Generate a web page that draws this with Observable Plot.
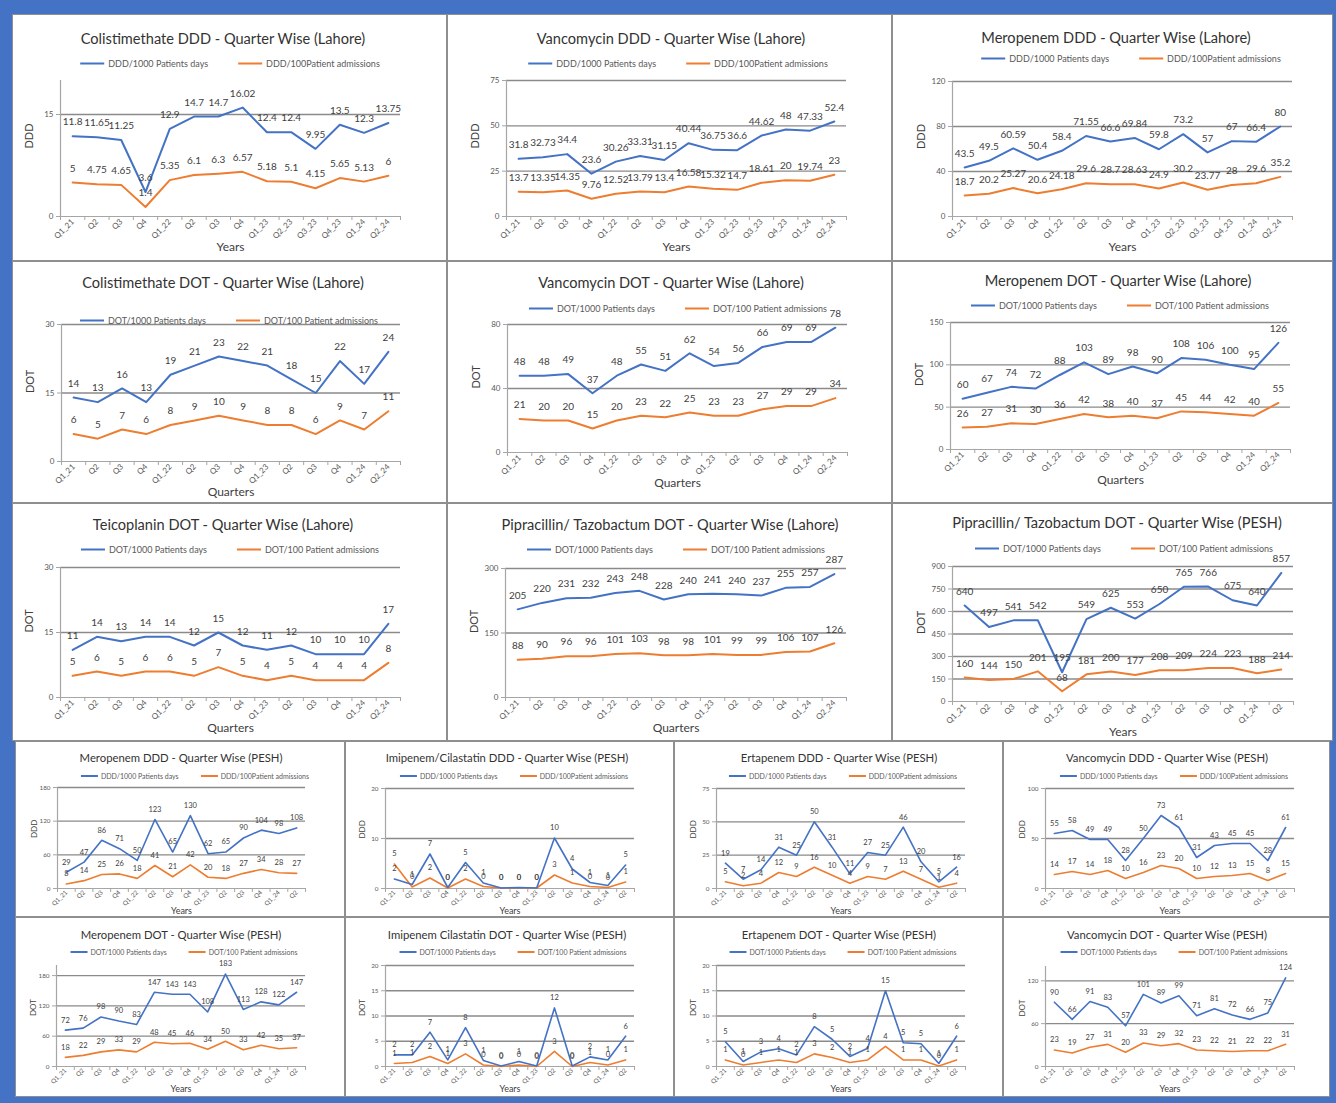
<!DOCTYPE html>
<html>
<head>
<meta charset="utf-8">
<script src="https://cdn.jsdelivr.net/npm/d3@7"></script>
<script src="https://cdn.jsdelivr.net/npm/@observablehq/plot@0.6"></script>
<style>
html, body { margin: 0; padding: 0; background: #4472c4; }
#root { position: relative; width: 1336px; height: 1103px; background: #4472c4; overflow: hidden; font-family: Lato, "Open Sans", sans-serif; }
.panel { position: absolute; background: #fff; box-shadow: inset 0 0 0 1px #8f8f8f; }
.panel svg { position: absolute; left: 0; top: 0; }
.title { position: absolute; transform: translate(-50%, -50%); white-space: nowrap; color: #333; z-index: 2; }
.legend { position: absolute; transform: translate(-50%, -50%); white-space: nowrap; display: flex; align-items: center; color: #595959; z-index: 2; }
.legend .sw { display: inline-block; }
</style>
</head>
<body>
<div id="root"></div>
<script>
// ---------- category labels ----------
const quartersYearsLahore = ["Q1_21","Q2","Q3","Q4","Q1_22","Q2","Q3","Q4","Q1_23","Q2_23","Q3_23","Q4_23","Q1_24","Q2_24"];
const quartersLahore = ["Q1_21","Q2","Q3","Q4","Q1_22","Q2","Q3","Q4","Q1_23","Q2","Q3","Q4","Q1_24","Q2_24"];
const quartersPesh = ["Q1_21","Q2","Q3","Q4","Q1_22","Q2","Q3","Q4","Q1_23","Q2","Q3","Q4","Q1_24","Q2"];

// ---------- series values (Lahore) ----------
const colistDDD_days = [11.8, 11.65, 11.25, 3.6, 12.9, 14.7, 14.7, 16.02, 12.4, 12.4, 9.95, 13.5, 12.3, 13.75];
const colistDDD_adm  = [5, 4.75, 4.65, 1.4, 5.35, 6.1, 6.3, 6.57, 5.18, 5.1, 4.15, 5.65, 5.13, 6];
const vancoDDD_days  = [31.8, 32.73, 34.4, 23.6, 30.26, 33.31, 31.15, 40.44, 36.75, 36.6, 44.62, 48, 47.33, 52.4];
const vancoDDD_adm   = [13.7, 13.35, 14.35, 9.76, 12.52, 13.79, 13.4, 16.58, 15.32, 14.7, 18.61, 20, 19.74, 23];
const meroDDD_days   = [43.5, 49.5, 60.59, 50.4, 58.4, 71.55, 66.6, 69.84, 59.8, 73.2, 57, 67, 66.4, 80];
const meroDDD_adm    = [18.7, 20.2, 25.27, 20.6, 24.18, 29.6, 28.7, 28.63, 24.9, 30.2, 23.77, 28, 29.6, 35.2];
const colistDOT_days = [14, 13, 16, 13, 19, 21, 23, 22, 21, 18, 15, 22, 17, 24];
const colistDOT_adm  = [6, 5, 7, 6, 8, 9, 10, 9, 8, 8, 6, 9, 7, 11];
const vancoDOT_days  = [48, 48, 49, 37, 48, 55, 51, 62, 54, 56, 66, 69, 69, 78];
const vancoDOT_adm   = [21, 20, 20, 15, 20, 23, 22, 25, 23, 23, 27, 29, 29, 34];
const meroDOT_days   = [60, 67, 74, 72, 88, 103, 89, 98, 90, 108, 106, 100, 95, 126];
const meroDOT_adm    = [26, 27, 31, 30, 36, 42, 38, 40, 37, 45, 44, 42, 40, 55];
const teicoDOT_days  = [11, 14, 13, 14, 14, 12, 15, 12, 11, 12, 10, 10, 10, 17];
const teicoDOT_adm   = [5, 6, 5, 6, 6, 5, 7, 5, 4, 5, 4, 4, 4, 8];
const pipLhrDOT_days = [205, 220, 231, 232, 243, 248, 228, 240, 241, 240, 237, 255, 257, 287];
const pipLhrDOT_adm  = [88, 90, 96, 96, 101, 103, 98, 98, 101, 99, 99, 106, 107, 126];

// ---------- series values (PESH) ----------
const pipPeshDOT_days   = [640, 497, 541, 542, 195, 549, 625, 553, 650, 765, 766, 675, 640, 857];
const pipPeshDOT_adm    = [160, 144, 150, 201, 68, 181, 200, 177, 208, 209, 224, 223, 188, 214];
const meroPeshDDD_days  = [29, 47, 86, 71, 50, 123, 65, 130, 62, 65, 90, 104, 98, 108];
const meroPeshDDD_adm   = [8, 14, 25, 26, 18, 41, 21, 42, 20, 18, 27, 34, 28, 27];
const imiPeshDDD_days   = [1.9, 0.8, 6.9, 0.2, 5.2, 1.1, 0.1, 0.2, 0.1, 10.1, 3.9, 1.2, 0.6, 4.7];
const imiPeshDDD_adm    = [4.9, 0.3, 2.1, 0.1, 1.9, 0.4, 0.1, 0.1, 0.1, 2.7, 1.1, 0.4, 0.2, 1.3];
const ertaPeshDDD_days  = [19, 7, 14, 31, 25, 50, 31, 11, 27, 25, 46, 20, 5, 16];
const ertaPeshDDD_adm   = [5, 2, 4, 12, 9, 16, 10, 4, 9, 7, 13, 7, 1, 4];
const vancoPeshDDD_days = [55, 58, 49, 49, 28, 50, 73, 61, 31, 43, 45, 45, 28, 61];
const vancoPeshDDD_adm  = [14, 17, 14, 18, 10, 16, 23, 20, 10, 12, 13, 15, 8, 15];
const meroPeshDOT_days  = [72, 76, 98, 90, 83, 147, 143, 143, 108, 183, 113, 128, 122, 147];
const meroPeshDOT_adm   = [18, 22, 29, 33, 29, 48, 45, 46, 34, 50, 33, 42, 35, 37];
const imiPeshDOT_days   = [2.3, 2.3, 6.8, 1.3, 7.7, 1.2, 0.1, 1, 0.1, 11.6, 0.1, 1.9, 1.3, 6];
const imiPeshDOT_adm    = [0.6, 0.8, 2, 0.6, 2.5, 0.3, 0, 0.3, 0, 3, 0, 0.8, 0.3, 1.3];
const ertaPeshDOT_days  = [4.9, 1, 2.9, 3.5, 2.3, 7.9, 5.4, 2, 3.6, 15, 4.7, 4.5, 0.6, 6];
const ertaPeshDOT_adm   = [1.3, 0.3, 0.8, 1.3, 0.8, 2.5, 1.8, 0.8, 1.3, 4, 1.3, 1.3, 0.1, 1.3];
const vancoPeshDOT_days = [90, 66, 91, 83, 57, 101, 89, 99, 71, 81, 72, 66, 75, 124];
const vancoPeshDOT_adm  = [23, 19, 27, 31, 20, 33, 29, 32, 23, 22, 21, 22, 22, 31];

// ---------- legend texts ----------
const legendDDD = ["DDD/1000 Patients days", "DDD/100Patient admissions"];
const legendDOT = ["DOT/1000 Patients days", "DOT/100 Patient admissions"];

// ---------- styles ----------
const BLUE = "#4472c4", ORANGE = "#ed7d31";
const styles = {
  L: {title: 14.6, legend: 9, tick: 8, label: 10, yTitle: 11, xTitle: 12, dy: -14, yTitleDx: -31, xTitleDy: 34, lineW: 2, sw: 24, swGap: 4, itemGap: 30, tickPad: 4},
  S: {title: 11.3, legend: 7, tick: 6.3, label: 7.5, yTitle: 8, xTitle: 9, dy: -10, yTitleDx: -23, xTitleDy: 25, lineW: 1.6, sw: 17, swGap: 3, itemGap: 22, tickPad: 3}
};
const raw = v => String(v);
const rnd = v => String(Math.round(v));

// ---------- chart layout ----------
const charts = [
  {title: "Colistimethate DDD - Quarter Wise (Lahore)", days: colistDDD_days, adm: colistDDD_adm, cats: quartersYearsLahore, legend: legendDDD, yT: "DDD", xT: "Years", yMax: 20, yTicks: [0, 15], fmt: raw, size: "L", panel: [12, 14, 447, 261], frame: [60, 80, 400, 216], tXY: [223, 38], lXY: [230, 63]},
  {title: "Vancomycin DDD - Quarter Wise (Lahore)", days: vancoDDD_days, adm: vancoDDD_adm, cats: quartersYearsLahore, legend: legendDDD, yT: "DDD", xT: "Years", yMax: 75, yTicks: [0, 25, 50, 75], fmt: raw, size: "L", panel: [447, 14, 892, 261], frame: [506, 80, 846, 216], tXY: [671, 38], lXY: [678, 63]},
  {title: "Meropenem DDD - Quarter Wise (Lahore)", days: meroDDD_days, adm: meroDDD_adm, cats: quartersYearsLahore, legend: legendDDD, yT: "DDD", xT: "Years", yMax: 120, yTicks: [0, 40, 80, 120], fmt: raw, size: "L", panel: [892, 14, 1333, 261], frame: [952, 81, 1292, 216], tXY: [1116, 37], lXY: [1131, 58]},
  {title: "Colistimethate DOT - Quarter Wise (Lahore)", days: colistDOT_days, adm: colistDOT_adm, cats: quartersLahore, legend: legendDOT, yT: "DOT", xT: "Quarters", yMax: 30, yTicks: [0, 15, 30], fmt: rnd, size: "L", panel: [12, 261, 447, 503], frame: [61, 324, 400, 461], tXY: [223, 282], lXY: [229, 320]},
  {title: "Vancomycin DOT - Quarter Wise (Lahore)", days: vancoDOT_days, adm: vancoDOT_adm, cats: quartersLahore, legend: legendDOT, yT: "DOT", xT: "Quarters", yMax: 80, yTicks: [0, 40, 80], fmt: rnd, size: "L", panel: [447, 261, 892, 503], frame: [507, 324, 847, 452], tXY: [671, 282], lXY: [678, 308]},
  {title: "Meropenem DOT - Quarter Wise (Lahore)", days: meroDOT_days, adm: meroDOT_adm, cats: quartersLahore, legend: legendDOT, yT: "DOT", xT: "Quarters", yMax: 150, yTicks: [0, 50, 100, 150], fmt: rnd, size: "L", panel: [892, 261, 1333, 503], frame: [950, 322, 1290, 449], tXY: [1118, 280], lXY: [1120, 305]},
  {title: "Teicoplanin DOT - Quarter Wise (Lahore)", days: teicoDOT_days, adm: teicoDOT_adm, cats: quartersLahore, legend: legendDOT, yT: "DOT", xT: "Quarters", yMax: 30, yTicks: [0, 15, 30], fmt: rnd, size: "L", panel: [12, 503, 447, 741], frame: [60, 567, 400, 697], tXY: [223, 524], lXY: [230, 549]},
  {title: "Pipracillin/ Tazobactum DOT - Quarter Wise (Lahore)", days: pipLhrDOT_days, adm: pipLhrDOT_adm, cats: quartersLahore, legend: legendDOT, yT: "DOT", xT: "Quarters", yMax: 300, yTicks: [0, 150, 300], fmt: rnd, size: "L", panel: [447, 503, 892, 741], frame: [505, 568, 846, 697], tXY: [670, 524], lXY: [676, 549]},
  {title: "Pipracillin/ Tazobactum DOT - Quarter Wise (PESH)", days: pipPeshDOT_days, adm: pipPeshDOT_adm, cats: quartersPesh, legend: legendDOT, yT: "DOT", xT: "Years", yMax: 900, yTicks: [0, 150, 300, 450, 600, 750, 900], fmt: rnd, size: "L", panel: [892, 503, 1333, 741], frame: [952, 566, 1293, 701], tXY: [1117, 522], lXY: [1124, 548]},
  {title: "Meropenem DDD - Quarter Wise (PESH)", days: meroPeshDDD_days, adm: meroPeshDDD_adm, cats: quartersPesh, legend: legendDDD, yT: "DDD", xT: "Years", yMax: 180, yTicks: [0, 60, 120, 180], fmt: rnd, size: "S", panel: [15, 741, 345, 917], frame: [57, 787, 305, 888], tXY: [181, 757], lXY: [195, 776]},
  {title: "Imipenem/Cilastatin DDD - Quarter Wise (PESH)", days: imiPeshDDD_days, adm: imiPeshDDD_adm, cats: quartersPesh, legend: legendDDD, yT: "DDD", xT: "Years", yMax: 20, yTicks: [0, 10, 20], fmt: rnd, size: "S", panel: [345, 741, 674, 917], frame: [385, 788, 634, 888], tXY: [507, 757], lXY: [514, 776]},
  {title: "Ertapenem DDD - Quarter Wise (PESH)", days: ertaPeshDDD_days, adm: ertaPeshDDD_adm, cats: quartersPesh, legend: legendDDD, yT: "DDD", xT: "Years", yMax: 75, yTicks: [0, 25, 50, 75], fmt: rnd, size: "S", panel: [674, 741, 1003, 917], frame: [716, 788, 965, 888], tXY: [839, 757], lXY: [843, 776]},
  {title: "Vancomycin DDD - Quarter Wise (PESH)", days: vancoPeshDDD_days, adm: vancoPeshDDD_adm, cats: quartersPesh, legend: legendDDD, yT: "DDD", xT: "Years", yMax: 100, yTicks: [0, 50, 100], fmt: rnd, size: "S", panel: [1003, 741, 1330, 917], frame: [1045, 788, 1294, 888], tXY: [1167, 757], lXY: [1174, 776]},
  {title: "Meropenem DOT - Quarter Wise (PESH)", days: meroPeshDOT_days, adm: meroPeshDOT_adm, cats: quartersPesh, legend: legendDOT, yT: "DOT", xT: "Years", yMax: 200, yTicks: [0, 60, 120, 180], fmt: rnd, size: "S", panel: [15, 917, 345, 1097], frame: [56, 965, 305, 1066], tXY: [181, 934], lXY: [184, 952]},
  {title: "Imipenem Cilastatin DOT - Quarter Wise (PESH)", days: imiPeshDOT_days, adm: imiPeshDOT_adm, cats: quartersPesh, legend: legendDOT, yT: "DOT", xT: "Years", yMax: 20, yTicks: [0, 5, 10, 15, 20], fmt: rnd, size: "S", panel: [345, 917, 674, 1097], frame: [385, 965, 634, 1066], tXY: [507, 934], lXY: [513, 952]},
  {title: "Ertapenem DOT - Quarter Wise (PESH)", days: ertaPeshDOT_days, adm: ertaPeshDOT_adm, cats: quartersPesh, legend: legendDOT, yT: "DOT", xT: "Years", yMax: 20, yTicks: [0, 5, 10, 15, 20], fmt: rnd, size: "S", panel: [674, 917, 1003, 1097], frame: [716, 965, 965, 1066], tXY: [839, 934], lXY: [843, 952]},
  {title: "Vancomycin DOT - Quarter Wise (PESH)", days: vancoPeshDOT_days, adm: vancoPeshDOT_adm, cats: quartersPesh, legend: legendDOT, yT: "DOT", xT: "Years", yMax: 140, yTicks: [0, 60, 120], fmt: rnd, size: "S", panel: [1003, 917, 1330, 1097], frame: [1045, 966, 1294, 1066], tXY: [1167, 934], lXY: [1174, 952]}
];

const root = document.getElementById("root");

for (const c of charts) {
  const st = styles[c.size];
  const [px0, py0, px1, py1] = c.panel;
  const [fx0, fy0, fx1, fy1] = c.frame;
  const w = px1 - px0, h = py1 - py0;

  const panel = document.createElement("div");
  panel.className = "panel";
  Object.assign(panel.style, {left: px0 + "px", top: py0 + "px", width: w + "px", height: h + "px"});
  root.appendChild(panel);

  const days = c.days.map((v, i) => ({i, v}));
  const adm = c.adm.map((v, i) => ({i, v}));
  const n = c.cats.length;

  const svg = Plot.plot({
    width: w,
    height: h,
    marginLeft: fx0 - px0,
    marginRight: px1 - fx1,
    marginTop: fy0 - py0,
    marginBottom: py1 - fy1,
    style: {background: "transparent", fontFamily: "Lato, 'Open Sans', sans-serif", overflow: "visible"},
    x: {type: "linear", domain: [-0.5, n - 0.5], axis: null},
    y: {type: "linear", domain: [0, c.yMax], axis: null},
    marks: [
      Plot.ruleY(c.yTicks.filter(t => t > 0), {stroke: "#8a8a8a", strokeWidth: 1.3}),
      Plot.ruleX([-0.5], {y1: 0, y2: c.yMax, stroke: "#a6a6a6", strokeWidth: 1.2}),
      Plot.ruleY([0], {stroke: "#a6a6a6", strokeWidth: 1.2}),
      Plot.axisY({ticks: c.yTicks, tickSize: 4, tickPadding: 3, fontSize: st.tick, color: "#595959", stroke: "#a6a6a6", label: null, tickFormat: d => String(d)}),
      Plot.axisX({ticks: d3.range(n), tickSize: 0, tickPadding: st.tickPad, tickRotate: -45, fontSize: st.tick, color: "#595959", label: null, tickFormat: i => c.cats[i]}),
      Plot.axisX({ticks: d3.range(-0.5, n, 1), tickSize: 4, stroke: "#a6a6a6", label: null, tickFormat: () => ""}),
      Plot.line(adm, {x: "i", y: "v", stroke: ORANGE, strokeWidth: st.lineW}),
      Plot.line(days, {x: "i", y: "v", stroke: BLUE, strokeWidth: st.lineW}),
      Plot.text(adm, {x: "i", y: "v", text: d => c.fmt(d.v), dy: st.dy, fontSize: st.label, fill: "#404040"}),
      Plot.text(days, {x: "i", y: "v", text: d => c.fmt(d.v), dy: st.dy, fontSize: st.label, fill: "#404040"}),
      Plot.text([c.yT], {frameAnchor: "left", dx: st.yTitleDx, rotate: -90, fontSize: st.yTitle, fill: "#404040"}),
      Plot.text([c.xT], {frameAnchor: "bottom", dy: st.xTitleDy, fontSize: st.xTitle, fill: "#404040"})
    ]
  });
  panel.appendChild(svg);

  const t = document.createElement("div");
  t.className = "title";
  t.textContent = c.title;
  Object.assign(t.style, {left: (c.tXY[0] - px0) + "px", top: (c.tXY[1] - py0) + "px", fontSize: st.title + "px"});
  panel.appendChild(t);

  const lg = document.createElement("div");
  lg.className = "legend";
  Object.assign(lg.style, {left: (c.lXY[0] - px0) + "px", top: (c.lXY[1] - py0) + "px", fontSize: st.legend + "px"});
  [[BLUE, c.legend[0]], [ORANGE, c.legend[1]]].forEach(([col, txt], k) => {
    const sw = document.createElement("span");
    sw.className = "sw";
    Object.assign(sw.style, {background: col, width: st.sw + "px", height: "2px", marginRight: st.swGap + "px", marginLeft: (k ? st.itemGap : 0) + "px"});
    const tx = document.createElement("span");
    tx.textContent = txt;
    lg.appendChild(sw);
    lg.appendChild(tx);
  });
  panel.appendChild(lg);
}
</script>
</body>
</html>
